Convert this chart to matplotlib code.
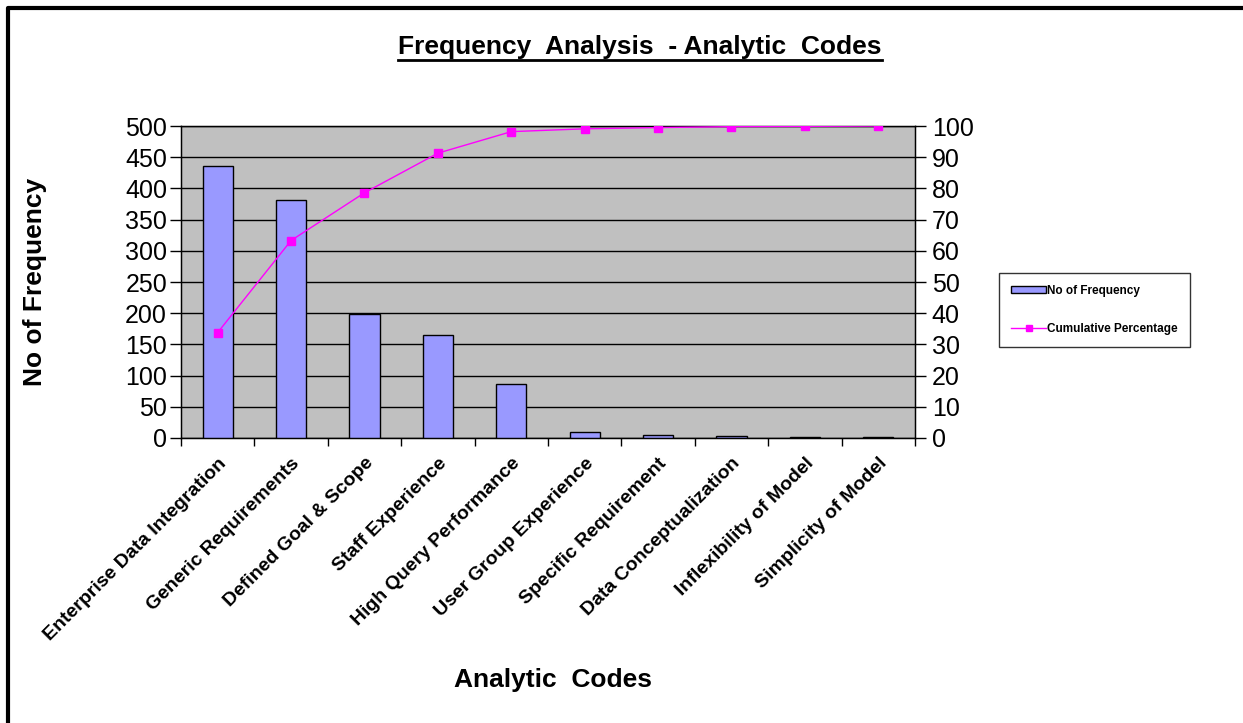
import matplotlib.pyplot as plt
from matplotlib.lines import Line2D
from matplotlib.patches import Rectangle

codes = ['Enterprise Data Integration', 'Generic Requirements', 'Defined Goal & Scope',
         'Staff Experience', 'High Query Performance', 'User Group Experience',
         'Specific Requirement', 'Data Conceptualization', 'Inflexibility of Model',
         'Simplicity of Model']
frequency = [436, 381, 198, 165, 87, 9, 5, 3, 1, 1]
cumulative = [33.8, 63.3, 78.6, 91.3, 98.2, 99.1, 99.5, 99.8, 99.9, 100]

plt.rcParams['font.family'] = ['Liberation Sans', 'DejaVu Sans']

fig = plt.figure(figsize=(12.43, 7.23), dpi=100, facecolor='white')
ax = fig.add_axes([0.1456, 0.3942, 0.5905, 0.4315])
ax.set_facecolor('#C0C0C0')

x = list(range(len(codes)))
ax.bar(x, frequency, width=0.41, color='#9999FF', edgecolor='black', linewidth=1.0, zorder=3)
ax.set_xlim(-0.5, len(codes) - 0.5)
ax.set_ylim(0, 500)
ax.set_yticks(range(0, 501, 50))
ax.grid(axis='y', color='black', linewidth=1.0, zorder=1)
ax.set_axisbelow(True)
ax.tick_params(axis='y', labelsize=18, length=8, width=1, pad=2, direction='out')

ax.set_xticks([i + 0.5 for i in range(-1, len(codes))], minor=False)
ax.set_xticklabels([])
ax.set_xticks(x, minor=True)
ax.set_xticklabels(codes, minor=True, rotation=45, ha='right', rotation_mode='anchor',
                   fontsize=14, fontweight='bold')
ax.tick_params(axis='x', which='major', length=6, width=1, direction='out')
ax.tick_params(axis='x', which='minor', length=0, pad=12)
for s in ax.spines.values():
    s.set_color('black')
    s.set_linewidth(1.0)

ax2 = ax.twinx()
ax2.plot(x, cumulative, color='#FF00FF', marker='s', markersize=6, linewidth=1.0, zorder=4)
ax2.set_ylim(0, 100)
ax2.set_yticks(range(0, 101, 10))
ax2.tick_params(axis='y', labelsize=18, length=8, width=1, pad=4, direction='out')

fig.text(0.028, 0.61, 'No of Frequency', rotation=90, ha='center', va='center',
         fontsize=19, fontweight='bold')
fig.text(0.445, 0.06, 'Analytic  Codes', ha='center', va='center',
         fontsize=19, fontweight='bold')
title = fig.text(0.5148, 0.935, 'Frequency  Analysis  - Analytic  Codes', ha='center',
                 va='center', fontsize=19, fontweight='bold')

# underline the title
fig.canvas.draw()
bb = title.get_window_extent().transformed(fig.transFigure.inverted())
fig.add_artist(Line2D([bb.x0, bb.x1], [bb.y0 - 0.001, bb.y0 - 0.001],
                      transform=fig.transFigure, color='black', linewidth=2))

handles = [Rectangle((0, 0), 1, 1, facecolor='#9999FF', edgecolor='black'),
           Line2D([], [], color='#FF00FF', marker='s', markersize=5, linewidth=1.0)]
leg = fig.legend(handles, ['No of Frequency', 'Cumulative Percentage'], loc='center',
                 bbox_to_anchor=(0.8805, 0.5712), fontsize=8.5, frameon=True, fancybox=False,
                 edgecolor='black', labelspacing=2.2, handlelength=3.0, handleheight=0.5,
                 handletextpad=0.1, borderpad=1.0, prop={'weight': 'bold', 'size': 8.5})
leg.get_frame().set_linewidth(1.0)

# sheet border
fig.add_artist(Line2D([0.0066, 0.0066, 1.0], [0.0, 0.989, 0.989], transform=fig.transFigure,
                      color='black', linewidth=3))

fig.savefig('out.png', dpi=100, facecolor='white')
